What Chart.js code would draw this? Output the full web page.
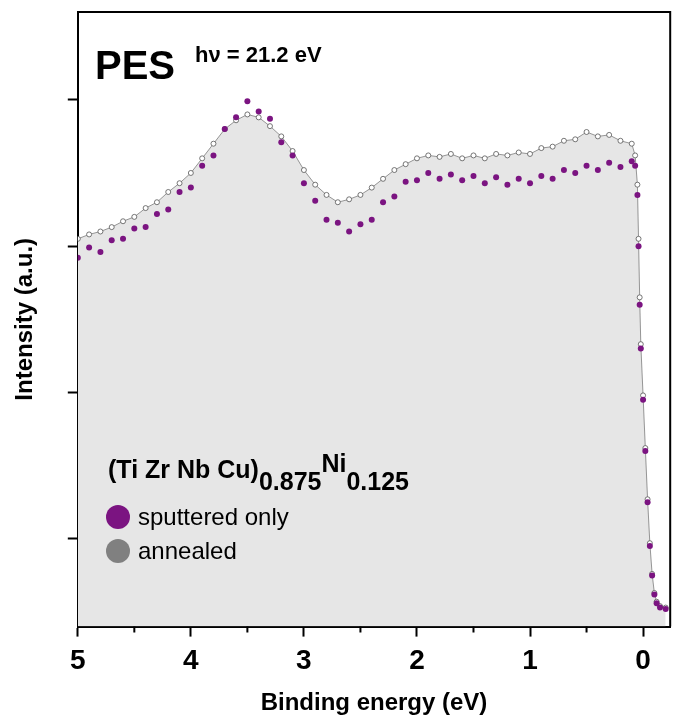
<!DOCTYPE html>
<html>
<head>
<meta charset="utf-8">
<script src="https://cdn.jsdelivr.net/npm/chart.js@4/dist/chart.umd.min.js"></script>
<style>
  html, body { margin: 0; padding: 0; background: #fff; }
  #wrap { width: 675px; height: 718px; }
</style>
</head>
<body>
<div id="wrap"><canvas id="chart-pes"></canvas></div>
<script>
// Binding energy (eV) and intensity (a.u.)
const energia = [5.0, 4.9, 4.8, 4.7, 4.6, 4.5, 4.4, 4.3, 4.2, 4.1, 4.0, 3.9, 3.8, 3.7, 3.6, 3.5, 3.4, 3.3, 3.2, 3.1,
  3.0, 2.9, 2.8, 2.7, 2.6, 2.5, 2.4, 2.3, 2.2, 2.1, 2.0, 1.9, 1.8, 1.7, 1.6, 1.5, 1.4, 1.3, 1.2, 1.1,
  1.0, 0.9, 0.8, 0.7, 0.6, 0.5, 0.4, 0.3, 0.2, 0.1,
  0.07, 0.05, 0.04, 0.03, 0.02, 0.0, -0.02, -0.04, -0.06, -0.08, -0.10, -0.12, -0.15, -0.20];

const sputtered = [1.92, 1.99, 1.96, 2.04, 2.05, 2.12, 2.13, 2.22, 2.25, 2.37, 2.40, 2.55, 2.62, 2.80, 2.88, 2.99, 2.92, 2.87, 2.71, 2.62,
  2.43, 2.31, 2.18, 2.16, 2.10, 2.15, 2.18, 2.30, 2.34, 2.44, 2.45, 2.50, 2.46, 2.49, 2.45, 2.48, 2.43, 2.47, 2.42, 2.46,
  2.43, 2.48, 2.46, 2.52, 2.50, 2.55, 2.52, 2.57, 2.54, 2.58,
  2.55, 2.35, 2.00, 1.60, 1.30, 0.95, 0.60, 0.25, -0.05, -0.25, -0.38, -0.44, -0.47, -0.48];

const annealed = [2.05, 2.08, 2.10, 2.13, 2.17, 2.20, 2.26, 2.30, 2.37, 2.43, 2.50, 2.60, 2.70, 2.80, 2.86, 2.90, 2.88, 2.82, 2.75, 2.65,
  2.52, 2.42, 2.35, 2.30, 2.32, 2.35, 2.40, 2.46, 2.52, 2.56, 2.60, 2.62, 2.61, 2.63, 2.60, 2.62, 2.60, 2.63, 2.62, 2.64,
  2.63, 2.67, 2.68, 2.72, 2.73, 2.78, 2.75, 2.76, 2.72, 2.70,
  2.62, 2.42, 2.05, 1.65, 1.33, 0.98, 0.62, 0.27, -0.03, -0.24, -0.37, -0.43, -0.46, -0.47];

const ticksX = [5, 4, 3, 2, 1, 0];
const ticksXMenores = [4.5, 3.5, 2.5, 1.5, 0.5];
const ticksY = [0, 1, 2, 3];

const puntos = (ys) => energia.map((e, i) => ({ x: e, y: ys[i] }));

// Marco superior/derecho, ticks menores y textos del gráfico
const anotaciones = {
  id: 'anotaciones',
  afterDraw(chart) {
    const { ctx, chartArea: a, scales } = chart;
    ctx.save();
    ctx.strokeStyle = '#000';
    ctx.lineWidth = 2;
    ctx.beginPath();
    ctx.moveTo(a.left, a.top); ctx.lineTo(a.right, a.top); ctx.lineTo(a.right, a.bottom);
    ticksXMenores.forEach(v => {
      const px = scales.x.getPixelForValue(v);
      ctx.moveTo(px, a.bottom); ctx.lineTo(px, a.bottom + 6);
    });
    ctx.stroke();

    ctx.fillStyle = '#000';
    ctx.textBaseline = 'alphabetic';
    ctx.font = 'bold 40px Arial, "Liberation Sans", sans-serif';
    ctx.fillText('PES', 95, 79);
    ctx.font = 'bold 22px Arial, "Liberation Sans", sans-serif';
    ctx.fillText('h\u03bd = 21.2 eV', 195, 62);

    ctx.font = 'bold 25px Arial, "Liberation Sans", sans-serif';
    let x = 108;
    ctx.fillText('(Ti Zr Nb Cu)', x, 478); x += ctx.measureText('(Ti Zr Nb Cu)').width;
    ctx.fillText('0.875', x, 490); x += ctx.measureText('0.875').width;
    ctx.fillText('Ni', x, 472); x += ctx.measureText('Ni').width;
    ctx.fillText('0.125', x, 490);

    ctx.font = '24px Arial, "Liberation Sans", sans-serif';
    [['#7b1481', 'sputtered only', 517], ['#808080', 'annealed', 551]].forEach(([c, t, y]) => {
      ctx.fillStyle = c;
      ctx.beginPath(); ctx.arc(118, y, 12, 0, Math.PI * 2); ctx.fill();
      ctx.fillStyle = '#000';
      ctx.fillText(t, 138, y + 8);
    });
    ctx.restore();
  }
};

new Chart(document.getElementById('chart-pes'), {
  type: 'scatter',
  data: {
    datasets: [
      { label: 'sputtered only', data: puntos(sputtered), backgroundColor: '#7b1481', borderColor: '#7b1481',
        pointRadius: 3, borderWidth: 0, order: 1 },
      { label: 'annealed', data: puntos(annealed), backgroundColor: '#ffffff', borderColor: '#555555',
        pointRadius: 2.5, pointBorderWidth: 0.8, showLine: true, borderWidth: 0.6, order: 2 },
      { label: 'fill', data: puntos(annealed), showLine: true, pointRadius: 0, borderWidth: 0,
        backgroundColor: '#e6e6e6', fill: 'start', order: 3 }
    ]
  },
  options: {
    responsive: true,
    maintainAspectRatio: false,
    animation: false,
    layout: { padding: { top: 12, right: 3, bottom: 0, left: 11 } },
    plugins: { legend: { display: false }, tooltip: { enabled: false } },
    scales: {
      x: {
        type: 'linear', reverse: true, min: -0.24, max: 5,
        afterBuildTicks: (s) => { s.ticks = ticksX.map(v => ({ value: v })); },
        ticks: { color: '#000', font: { size: 28, weight: 'bold', family: 'Arial, "Liberation Sans"' }, padding: 8 },
        grid: { color: 'transparent', drawOnChartArea: false, drawTicks: true, tickLength: 10, tickColor: '#000', tickWidth: 2 },
        border: { color: '#000', width: 2 },
        title: { display: true, text: 'Binding energy (eV)', color: '#000', padding: { top: 3, bottom: 0 },
          font: { size: 24, weight: 'bold', family: 'Arial, "Liberation Sans"' } }
      },
      y: {
        min: -0.6, max: 3.6,
        afterBuildTicks: (s) => { s.ticks = ticksY.map(v => ({ value: v })); },
        ticks: { display: true, callback: () => '', padding: 0 },
        grid: { color: 'transparent', drawOnChartArea: false, drawTicks: true, tickLength: 10, tickColor: '#000', tickWidth: 2 },
        border: { color: '#000', width: 2 },
        title: { display: true, text: 'Intensity (a.u.)', color: '#000', padding: { top: 0, bottom: 28 },
          font: { size: 24, weight: 'bold', family: 'Arial, "Liberation Sans"' } }
      }
    }
  },
  plugins: [anotaciones]
});
</script>
</body>
</html>
